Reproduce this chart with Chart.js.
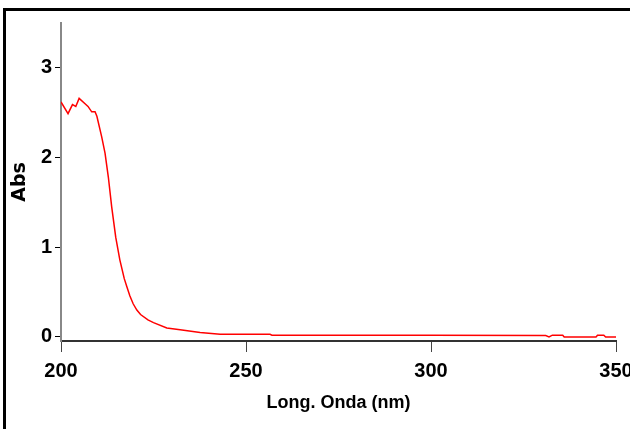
<!DOCTYPE html>
<html>
<head>
<meta charset="utf-8">
<script src="https://cdn.jsdelivr.net/npm/chart.js@4"></script>
<style>
  html, body { margin: 0; padding: 0; background: #fff; }
  canvas { display: block; }
</style>
</head>
<body>
<canvas id="spectrumChart" width="630" height="429"></canvas>
<script>
const wavelength = [
  200.0, 201.9, 203.1, 204.0, 204.9, 206.5, 207.3, 208.3, 209.2, 209.7,
  211.0, 211.9, 212.8, 213.7, 214.8, 215.9, 217.1, 217.8, 218.6, 219.5,
  220.5, 221.5, 223.5, 225.0, 228.6, 232.2, 237.6, 243.0, 256.5, 257.0,
  300.0, 331.0, 331.9, 332.8, 335.6, 336.0, 344.6, 345.0, 346.7, 347.2,
  350.0
];
const absorbance = [
  2.62, 2.49, 2.59, 2.57, 2.66, 2.60, 2.57, 2.51, 2.51, 2.46,
  2.23, 2.05, 1.78, 1.45, 1.11, 0.86, 0.65, 0.56, 0.46, 0.37,
  0.30, 0.25, 0.19, 0.16, 0.10, 0.08, 0.05, 0.03, 0.03, 0.02,
  0.02, 0.015, 0.0, 0.02, 0.02, 0.0, 0.0, 0.02, 0.02, 0.0,
  0.0
];

const xTicks = [200, 250, 300, 350];
const yTicks = [0, 1, 2, 3];

const fontFamily = '"Liberation Sans Narrow", "Liberation Sans", Arial, sans-serif';
const tickFont = { family: fontFamily, size: 20, weight: 'bold' };

// marco negro superior e izquierdo
const framePlugin = {
  id: 'frame',
  afterDraw(chart) {
    const ctx = chart.ctx;
    ctx.save();
    ctx.fillStyle = '#000';
    ctx.fillRect(3, 8, chart.width - 3, 3);
    ctx.fillRect(3, 8, 3, chart.height - 8);
    ctx.restore();
  }
};

const ctx = document.getElementById('spectrumChart').getContext('2d');

new Chart(ctx, {
  type: 'line',
  data: {
    datasets: [{
      data: wavelength.map((x, i) => ({ x: x, y: absorbance[i] })),
      borderColor: '#ff0000',
      borderWidth: 1.5,
      pointRadius: 0,
      tension: 0,
      fill: false
    }]
  },
  options: {
    responsive: false,
    animation: false,
    layout: { padding: { top: 23, right: 14, left: 0, bottom: 0 } },
    plugins: {
      legend: { display: false },
      tooltip: { enabled: false }
    },
    scales: {
      x: {
        type: 'linear',
        min: 200,
        max: 350,
        afterBuildTicks: scale => { scale.ticks = xTicks.map(v => ({ value: v })); },
        afterFit: scale => {
          scale.height = 88;
          scale.paddingLeft = 0;
          scale.paddingRight = 0;
        },
        border: { color: '#333', width: 2 },
        grid: { drawOnChartArea: false, tickLength: 11, color: '#444', lineWidth: 1 },
        ticks: { color: '#000', font: tickFont, padding: 7, maxRotation: 0 },
        title: {
          display: true,
          text: 'Long. Onda (nm)',
          color: '#000',
          font: { family: fontFamily, size: 18, weight: 'bold' },
          padding: { top: 0, bottom: 15 }
        }
      },
      y: {
        min: -0.045,
        max: 3.5,
        afterBuildTicks: scale => { scale.ticks = yTicks.map(v => ({ value: v })); },
        afterFit: scale => {
          scale.width = 61;
          scale.paddingTop = 0;
          scale.paddingBottom = 0;
        },
        border: { color: '#888', width: 2 },
        grid: { drawOnChartArea: false, tickLength: 6, color: '#000', lineWidth: 1 },
        ticks: { color: '#000', font: tickFont, padding: 3 },
        title: {
          display: true,
          text: 'Abs',
          color: '#000',
          font: { family: '"DejaVu Sans", sans-serif', size: 19, weight: 'bold' },
          padding: { top: 9, bottom: 0 }
        }
      }
    }
  },
  plugins: [framePlugin]
});
</script>
</body>
</html>
